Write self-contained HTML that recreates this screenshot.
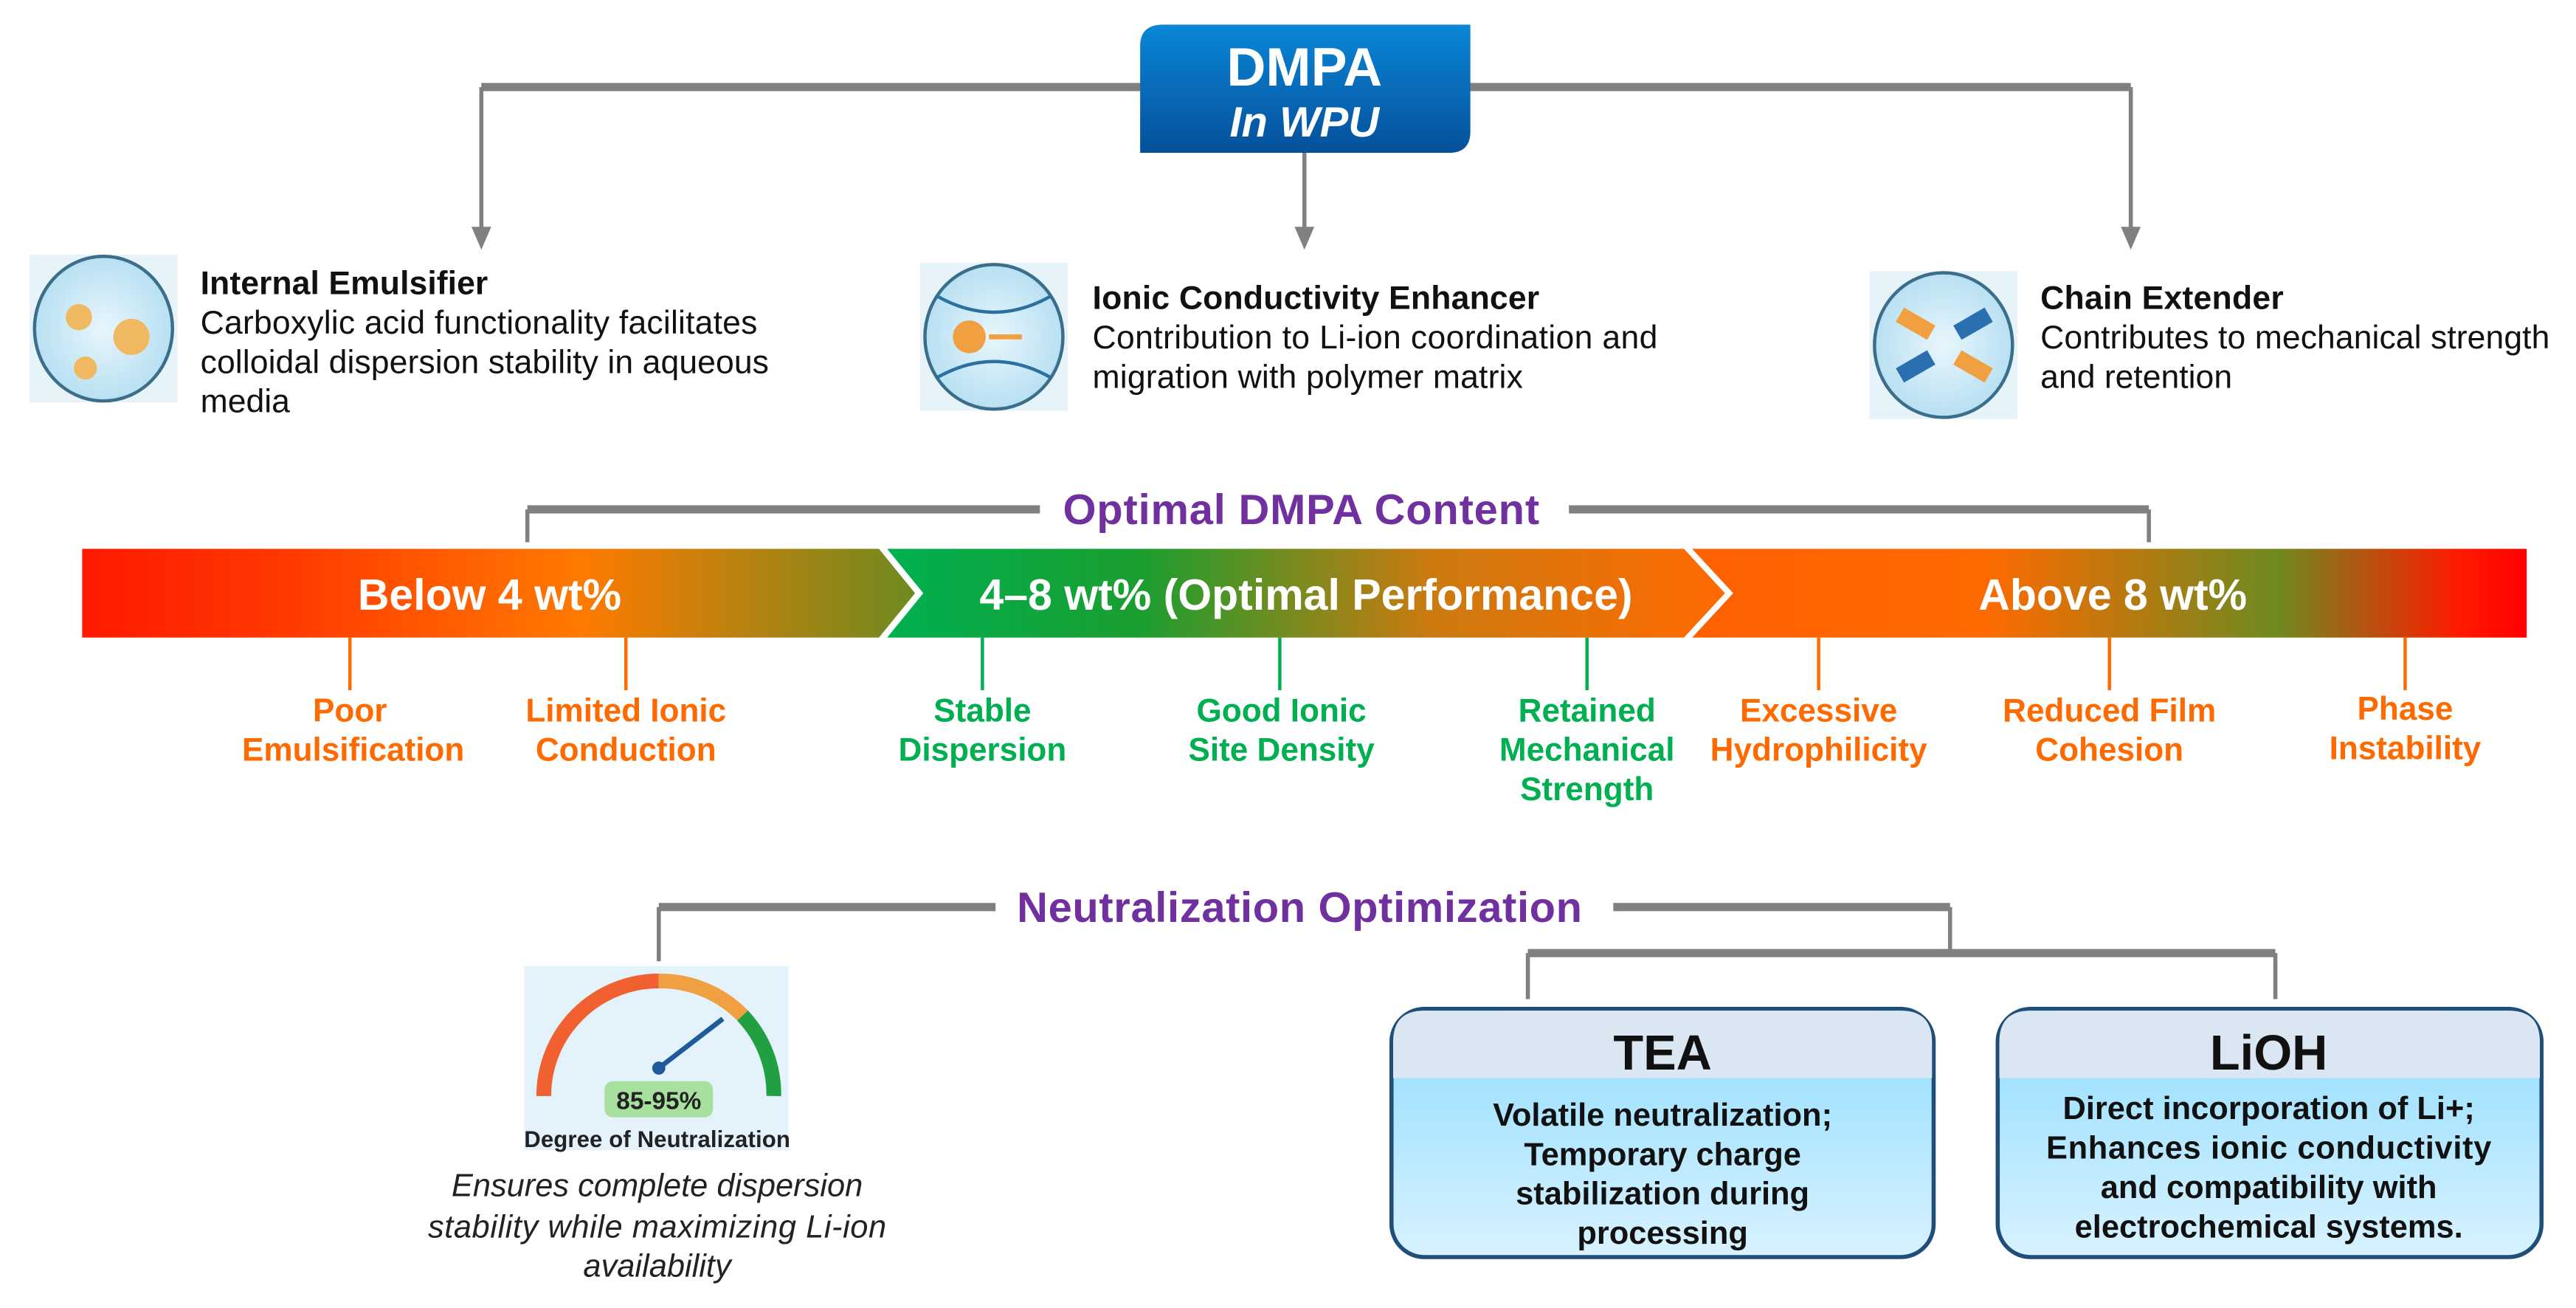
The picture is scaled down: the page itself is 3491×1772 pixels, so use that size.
<!DOCTYPE html>
<html><head><meta charset="utf-8"><style>
html,body{margin:0;padding:0;background:#fff;}
svg{display:block;}
text{font-family:"Liberation Sans",Arial,sans-serif;}
</style></head><body>
<svg width="3491" height="1772" viewBox="0 0 1568 796" preserveAspectRatio="none" xmlns="http://www.w3.org/2000/svg">
<defs>
<linearGradient id="gbox" x1="0" y1="0" x2="0" y2="1"><stop offset="0" stop-color="#0a86d8"/><stop offset="1" stop-color="#05509a"/></linearGradient>
<linearGradient id="s1" x1="0" x2="1"><stop offset="0" stop-color="#ff1a00"/><stop offset="0.25" stop-color="#ff3a00"/><stop offset="0.6" stop-color="#ff7a00"/><stop offset="1" stop-color="#6e8a20"/></linearGradient>
<linearGradient id="s2" x1="0" x2="1"><stop offset="0" stop-color="#00b050"/><stop offset="0.3" stop-color="#1a9e30"/><stop offset="0.65" stop-color="#cc7a10"/><stop offset="1" stop-color="#ff6a00"/></linearGradient>
<linearGradient id="s3" x1="0" x2="1"><stop offset="0" stop-color="#ff6000"/><stop offset="0.35" stop-color="#ff6a00"/><stop offset="0.7" stop-color="#6e8a20"/><stop offset="0.92" stop-color="#ff1a00"/><stop offset="1" stop-color="#ff0000"/></linearGradient>
<linearGradient id="gb" x1="0" y1="0" x2="0" y2="1"><stop offset="0" stop-color="#8fdcff"/><stop offset="1" stop-color="#d8f2ff"/></linearGradient>
<radialGradient id="ic" cx="0.5" cy="0.5" r="0.5"><stop offset="0" stop-color="#e8f6fc"/><stop offset="1" stop-color="#b8e0f2"/></radialGradient>
</defs>
<g stroke="#808080" fill="none">
<path d="M293 53 H1297" stroke-width="5"/>
<path d="M293 53 V145 M794 90 V145 M1297 53 V145" stroke-width="2.5"/>
</g>
<g fill="#808080">
<path d="M287 138 L293 152 L299 138 Z"/><path d="M788 138 L794 152 L800 138 Z"/><path d="M1291 138 L1297 152 L1303 138 Z"/>
</g>
<path d="M708 15 H895 V80 Q895 93 882 93 H694 V28 Q694 15 708 15 Z" fill="url(#gbox)"/>
<text x="794" y="52" font-size="33" font-weight="bold" fill="#fff" text-anchor="middle">DMPA</text>
<text x="794" y="83" font-size="26" font-weight="bold" font-style="italic" fill="#fff" text-anchor="middle">In WPU</text>
<rect x="18" y="155" width="90" height="90" fill="#e6f4fa"/><ellipse cx="63" cy="200" rx="42" ry="44" fill="url(#ic)" stroke="#3a6e8a" stroke-width="2"/>
<circle cx="48" cy="193" r="8" fill="#f0b860"/><circle cx="80" cy="205" r="11" fill="#f0b860"/><circle cx="52" cy="224" r="7" fill="#f0b860"/>
<rect x="560" y="160" width="90" height="90" fill="#e6f4fa"/><ellipse cx="605" cy="205" rx="42" ry="44" fill="url(#ic)" stroke="#3a6e8a" stroke-width="2"/>
<circle cx="590" cy="205" r="10" fill="#f0a040"/><path d="M602 205 H622" stroke="#f0a040" stroke-width="3"/>
<path d="M570 180 Q605 200 640 180 M570 230 Q605 210 640 230" stroke="#2a70a0" stroke-width="2" fill="none"/>
<rect x="1138" y="165" width="90" height="90" fill="#e6f4fa"/><ellipse cx="1183" cy="210" rx="42" ry="44" fill="url(#ic)" stroke="#3a6e8a" stroke-width="2"/>
<rect x="1155" y="192" width="22" height="10" fill="#f0a040" transform="rotate(30 1166 197)"/><rect x="1190" y="192" width="22" height="10" fill="#2a70b0" transform="rotate(-30 1201 197)"/>
<rect x="1155" y="218" width="22" height="10" fill="#2a70b0" transform="rotate(-30 1166 223)"/><rect x="1190" y="218" width="22" height="10" fill="#f0a040" transform="rotate(30 1201 223)"/>
<g font-size="20" fill="#111">
<text x="122" y="179" font-weight="bold" textLength="175">Internal Emulsifier</text>
<text x="122" y="203" textLength="339">Carboxylic acid functionality facilitates</text>
<text x="122" y="227" textLength="346">colloidal dispersion stability in aqueous</text>
<text x="122" y="251">media</text>
<text x="665" y="188" font-weight="bold" textLength="272">Ionic Conductivity Enhancer</text>
<text x="665" y="212" textLength="344">Contribution to Li-ion  coordination and</text>
<text x="665" y="236" textLength="262">migration with polymer matrix</text>
<text x="1242" y="188" font-weight="bold" textLength="148">Chain Extender</text>
<text x="1242" y="212" textLength="310">Contributes to mechanical strength</text>
<text x="1242" y="236">and retention</text>
</g>
<g stroke="#808080" fill="none">
<path d="M321 310 H633 M955 310 H1308" stroke-width="5"/>
<path d="M321 310 V330 M1308 310 V330" stroke-width="2.5"/>
</g>
<text x="792" y="319" font-size="26" font-weight="bold" fill="#7030a0" text-anchor="middle" textLength="290">Optimal  DMPA Content</text>
<path d="M50 334 H535 L557 361 L535 388 H50 Z" fill="url(#s1)"/>
<path d="M540 334 H1025 L1050 361 L1025 388 H540 L562 361 Z" fill="url(#s2)"/>
<path d="M1030 334 H1538 V388 H1030 L1055 361 Z" fill="url(#s3)"/>
<g font-size="26.5" font-weight="bold" fill="#fff" text-anchor="middle">
<text x="298" y="371">Below 4 wt%</text>
<text x="795" y="371">4–8 wt% (Optimal Performance)</text>
<text x="1286" y="371">Above 8 wt%</text>
</g>
<g stroke-width="2">
<path d="M213 388 V420 M381 388 V420 M1107 388 V420 M1284 388 V420 M1464 388 V420" stroke="#ff6a00"/>
<path d="M598 388 V420 M779 388 V420 M966 388 V420" stroke="#00b050"/>
</g>
<g font-size="19.8" font-weight="bold" text-anchor="middle">
<g fill="#ff6a00">
<text x="213" y="439">Poor</text><text x="215" y="463">Emulsification</text>
<text x="381" y="439">Limited Ionic</text><text x="381" y="463">Conduction</text>
<text x="1107" y="439">Excessive</text><text x="1107" y="463">Hydrophilicity</text>
<text x="1284" y="439">Reduced Film</text><text x="1284" y="463">Cohesion</text>
<text x="1464" y="438">Phase</text><text x="1464" y="462">Instability</text>
</g>
<g fill="#00b050">
<text x="598" y="439">Stable</text><text x="598" y="463">Dispersion</text>
<text x="780" y="439">Good Ionic</text><text x="780" y="463">Site Density</text>
<text x="966" y="439">Retained</text><text x="966" y="463">Mechanical</text><text x="966" y="487">Strength</text>
</g>
</g>
<g stroke="#808080" fill="none">
<path d="M401 552 H606 M982 552 H1187 M930 580 H1385" stroke-width="5"/>
<path d="M401 552 V585 M1187 552 V580 M930 580 V608 M1385 580 V608" stroke-width="2.5"/>
</g>
<text x="791" y="561" font-size="26" font-weight="bold" fill="#7030a0" text-anchor="middle" textLength="344">Neutralization  Optimization</text>
<rect x="319" y="588" width="161" height="112" fill="#e4f2fb"/>
<path d="M331 667 A70 70 0 0 1 401 597" stroke="#f06030" stroke-width="9" fill="none"/>
<path d="M401 597 A70 70 0 0 1 452 618" stroke="#f0a040" stroke-width="9" fill="none"/>
<path d="M452 618 A70 70 0 0 1 471 667" stroke="#20a040" stroke-width="9" fill="none"/>
<path d="M401 650 L440 620" stroke="#1f5a9a" stroke-width="3"/><circle cx="401" cy="650" r="4" fill="#1f5a9a"/>
<rect x="368" y="658" width="66" height="22" rx="5" fill="#a8e0a0"/>
<text x="401" y="675" font-size="15" font-weight="bold" fill="#222" text-anchor="middle">85-95%</text>
<text x="400" y="698" font-size="14" font-weight="bold" fill="#222" text-anchor="middle" textLength="162">Degree of Neutralization</text>
<g font-size="19.5" font-style="italic" fill="#222" text-anchor="middle">
<text x="400" y="728">Ensures  complete dispersion</text>
<text x="400" y="753" textLength="279">stability while maximizing Li-ion</text>
<text x="400" y="777">availability</text>
</g>
<rect x="847" y="614" width="330" height="151" rx="20" fill="url(#gb)" stroke="#1f4e79" stroke-width="2.5"/>
<path d="M867 615 H1157 Q1176 615 1176 634 V656 H848 V634 Q848 615 867 615 Z" fill="#dae6f2"/>
<text x="1012" y="651" font-size="30" font-weight="bold" fill="#111" text-anchor="middle">TEA</text>
<g font-size="19.5" font-weight="bold" fill="#111" text-anchor="middle">
<text x="1012" y="685">Volatile neutralization;</text><text x="1012" y="709">Temporary charge</text><text x="1012" y="733">stabilization during</text><text x="1012" y="757">processing</text>
</g>
<rect x="1216" y="614" width="331" height="151" rx="20" fill="url(#gb)" stroke="#1f4e79" stroke-width="2.5"/>
<path d="M1236 615 H1527 Q1546 615 1546 634 V656 H1217 V634 Q1217 615 1236 615 Z" fill="#dae6f2"/>
<text x="1381" y="651" font-size="30" font-weight="bold" fill="#111" text-anchor="middle">LiOH</text>
<g font-size="19.5" font-weight="bold" fill="#111" text-anchor="middle">
<text x="1381" y="681">Direct incorporation of Li+;</text><text x="1381" y="705" textLength="271">Enhances ionic conductivity</text><text x="1381" y="729">and compatibility with</text><text x="1381" y="753">electrochemical systems.</text>
</g>
</svg>
</body></html>
